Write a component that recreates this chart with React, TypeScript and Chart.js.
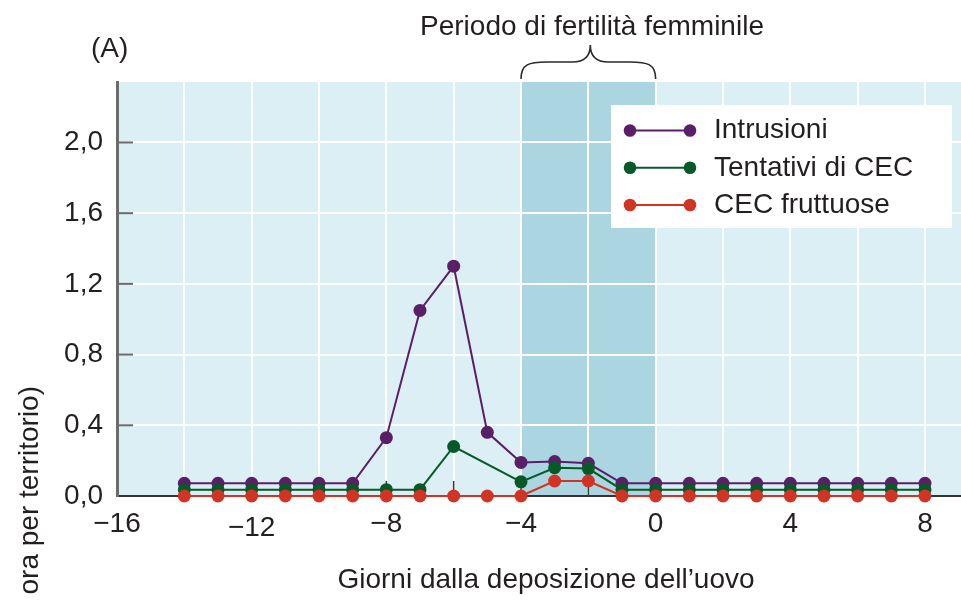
import React, { useEffect, useRef } from 'react';
import { Chart, registerables } from 'chart.js';

Chart.register(...registerables);

// ---- data ----
const DAYS = [-14, -13, -12, -11, -10, -9, -8, -7, -6, -5, -4, -3, -2, -1, 0, 1, 2, 3, 4, 5, 6, 7, 8];
const INTRUSIONI = [0.072, 0.072, 0.072, 0.072, 0.072, 0.072, 0.33, 1.05, 1.3, 0.36, 0.19, 0.195, 0.185, 0.072, 0.072, 0.072, 0.072, 0.072, 0.072, 0.072, 0.072, 0.072, 0.072];
const TENTATIVI = [0.036, 0.036, 0.036, 0.036, 0.036, 0.036, 0.036, 0.036, 0.28, null, 0.08, 0.16, 0.155, 0.036, 0.036, 0.036, 0.036, 0.036, 0.036, 0.036, 0.036, 0.036, 0.036];
const FRUTTUOSE = [0, 0, 0, 0, 0, 0, 0, 0, 0, 0, 0, 0.085, 0.085, 0, 0, 0, 0, 0, 0, 0, 0, 0, 0];
const SERIES_LABELS = ['Intrusioni', 'Tentativi di CEC', 'CEC fruttuose'];

const X_GRID = [-16, -14, -12, -10, -8, -6, -4, -2, 0, 2, 4, 6, 8];
const X_LABELS = [-16, -12, -8, -4, 0, 4, 8];
const Y_TICKS = [0, 0.4, 0.8, 1.2, 1.6, 2.0];
const X_MIN = -16;
const X_MAX = 9.07;
const Y_MIN = 0;
const Y_MAX = 2.342;
const FERTILE_START = -4;
const FERTILE_END = 0;

const TITLE = 'Periodo di fertilità femminile';
const PANEL = '(A)';
const X_TITLE = 'Giorni dalla deposizione dell’uovo';
const Y_TITLE = 'ora per territorio)';

// ---- style ----
const FONT = "'Liberation Sans', Arial, Helvetica, sans-serif";
const FS = 28;
const TEXT = '#231f20';
const BG = '#dbeff5';
const BAND = '#aad5e1';
const C_PURPLE = '#5a1f66';
const C_GREEN = '#075a28';
const C_RED = '#d13324';
const COLORS = [C_PURPLE, C_GREEN, C_RED];

const toPoints = (arr: (number | null)[]) => DAYS.map((d, i) => ({ x: d, y: arr[i] }));
const fmtX = (v: number) => (v < 0 ? '\u2212' + Math.abs(v) : String(v));
const fmtY = (v: number) => Number(v).toFixed(1).replace('.', ',');

const decor = {
  id: 'decor',
  beforeDraw(chart: any) {
    const { ctx, chartArea: a, scales } = chart;
    const x = scales.x;
    ctx.save();
    ctx.fillStyle = '#ffffff';
    ctx.fillRect(0, 0, chart.width, chart.height);
    ctx.fillStyle = BG;
    ctx.fillRect(a.left, a.top, a.right - a.left, a.bottom - a.top);
    const x0 = x.getPixelForValue(FERTILE_START);
    const x1 = x.getPixelForValue(FERTILE_END);
    ctx.fillStyle = BAND;
    ctx.fillRect(x0, a.top, x1 - x0, a.bottom - a.top);
    ctx.restore();
  },
  beforeDatasetsDraw(chart: any) {
    const { ctx, chartArea: a, scales } = chart;
    const { x, y } = scales;
    ctx.save();
    ctx.strokeStyle = '#3a3a3a';
    ctx.lineWidth = 1.5;
    X_GRID.forEach((v) => {
      if (v === X_MIN) return;
      const px = x.getPixelForValue(v);
      ctx.beginPath();
      ctx.moveTo(px, a.bottom);
      ctx.lineTo(px, a.bottom - 15);
      ctx.stroke();
    });
    ctx.strokeStyle = '#6b6b6b';
    ctx.lineWidth = 2;
    Y_TICKS.forEach((v) => {
      if (v === 0) return;
      const py = y.getPixelForValue(v);
      ctx.beginPath();
      ctx.moveTo(a.left, py);
      ctx.lineTo(a.left + 16, py);
      ctx.stroke();
    });
    ctx.restore();
  },
  afterDraw(chart: any) {
    const { ctx, scales } = chart;
    const x = scales.x;
    ctx.save();
    ctx.fillStyle = TEXT;
    ctx.font = `${FS}px ${FONT}`;

    // brace + title above fertile period
    const x0 = x.getPixelForValue(FERTILE_START);
    const x1 = x.getPixelForValue(FERTILE_END);
    const cx = (x0 + x1) / 2 + 2;
    const yb = 79, yf = 62, yt = 45;
    ctx.strokeStyle = '#2a2a2a';
    ctx.lineWidth = 1.6;
    ctx.beginPath();
    ctx.moveTo(x0, yb);
    ctx.bezierCurveTo(x0, yf + 2, x0 + 8, yf, x0 + 26, yf);
    ctx.lineTo(cx - 18, yf);
    ctx.bezierCurveTo(cx - 6, yf, cx, yf - 5, cx, yt);
    ctx.moveTo(cx, yt);
    ctx.bezierCurveTo(cx, yf - 5, cx + 6, yf, cx + 18, yf);
    ctx.lineTo(x1 - 26, yf);
    ctx.bezierCurveTo(x1 - 8, yf, x1, yf + 2, x1, yb);
    ctx.stroke();

    ctx.textAlign = 'center';
    ctx.textBaseline = 'alphabetic';
    ctx.fillText(TITLE, 592, 35);

    ctx.textAlign = 'left';
    ctx.fillText(PANEL, 91, 57);

    // x title
    ctx.textAlign = 'center';
    ctx.fillText(X_TITLE, 546, 588);

    // y title (rotated)
    ctx.save();
    ctx.translate(30, 386);
    ctx.rotate(-Math.PI / 2);
    ctx.textAlign = 'right';
    ctx.textBaseline = 'middle';
    ctx.fillText(Y_TITLE, 0, 0);
    ctx.restore();

    // legend
    const lx = 611, ly = 105, lw = 341, lh = 123;
    ctx.fillStyle = '#ffffff';
    ctx.fillRect(lx, ly, lw, lh);
    const rows = [130.5, 167.8, 205];
    chart.data.datasets.forEach((ds: any, i: number) => {
      const ry = rows[i];
      const col = ds.borderColor;
      ctx.strokeStyle = col;
      ctx.lineWidth = 2;
      ctx.beginPath();
      ctx.moveTo(630, ry);
      ctx.lineTo(690, ry);
      ctx.stroke();
      ctx.fillStyle = col;
      [630, 690].forEach((px) => {
        ctx.beginPath();
        ctx.arc(px, ry, 6.3, 0, Math.PI * 2);
        ctx.fill();
      });
      ctx.fillStyle = TEXT;
      ctx.textAlign = 'left';
      ctx.textBaseline = 'middle';
      ctx.fillText(ds.label, 714, ry);
    });
    ctx.restore();
  },
};

export default function App() {
  const ref = useRef<HTMLCanvasElement | null>(null);

  useEffect(() => {
    if (!ref.current) return;
    const series = [INTRUSIONI, TENTATIVI, FRUTTUOSE];
    const chart = new Chart(ref.current, {
      type: 'line',
      data: {
        datasets: series.map((arr, i) => ({
          label: SERIES_LABELS[i],
          data: toPoints(arr),
          borderColor: COLORS[i],
          backgroundColor: COLORS[i],
          pointBackgroundColor: COLORS[i],
          pointBorderWidth: 0,
          pointRadius: 6.5,
          borderWidth: 2,
          spanGaps: true,
          clip: false,
          order: 3 - i,
          tension: 0,
        })),
      },
      options: {
        animation: false,
        responsive: false,
        devicePixelRatio: 1,
        layout: { autoPadding: false, padding: { top: 82, right: 0, left: 0, bottom: 0 } },
        plugins: {
          legend: { display: false },
          tooltip: { enabled: false },
          title: { display: false },
        },
        scales: {
          x: {
            type: 'linear',
            min: X_MIN,
            max: X_MAX,
            afterBuildTicks: (s: any) => {
              s.ticks = X_GRID.map((v) => ({ value: v }));
            },
            afterFit: (s: any) => {
              s.height = 104;
              s.paddingLeft = 0;
              s.paddingRight = 0;
            },
            grid: {
              color: (c: any) => (c.tick && c.tick.value === X_MIN ? 'rgba(0,0,0,0)' : '#ffffff'),
              lineWidth: 2,
              drawTicks: false,
            },
            border: { display: true, color: '#333333', width: 2 },
            ticks: {
              autoSkip: false,
              maxRotation: 0,
              padding: 11,
              color: TEXT,
              font: (c: any) => ({
                family: FONT,
                size: FS,
                lineHeight: c.tick && c.tick.value === -12 ? 1.5 : 1.2,
              }),
              callback: (v: any) => (X_LABELS.includes(Number(v)) ? fmtX(Number(v)) : ''),
            },
          },
          y: {
            type: 'linear',
            min: Y_MIN,
            max: Y_MAX,
            afterBuildTicks: (s: any) => {
              s.ticks = Y_TICKS.map((v) => ({ value: v }));
            },
            afterFit: (s: any) => {
              s.width = 117;
              s.paddingTop = 0;
              s.paddingBottom = 0;
            },
            grid: {
              color: (c: any) => (c.tick && c.tick.value === 0 ? 'rgba(0,0,0,0)' : '#ffffff'),
              lineWidth: 2,
              drawTicks: false,
            },
            border: { display: true, color: '#6b6b6b', width: 3 },
            ticks: {
              padding: 14,
              color: TEXT,
              font: { family: FONT, size: FS },
              callback: (v: any) => fmtY(Number(v)),
            },
          },
        },
      },
      plugins: [decor],
    } as any);
    return () => chart.destroy();
  }, []);

  return (
    <div style={{ position: 'absolute', left: 0, top: 0, width: 961, height: 600 }}>
      <canvas ref={ref} width={961} height={600} style={{ display: 'block', width: 961, height: 600 }} />
    </div>
  );
}
